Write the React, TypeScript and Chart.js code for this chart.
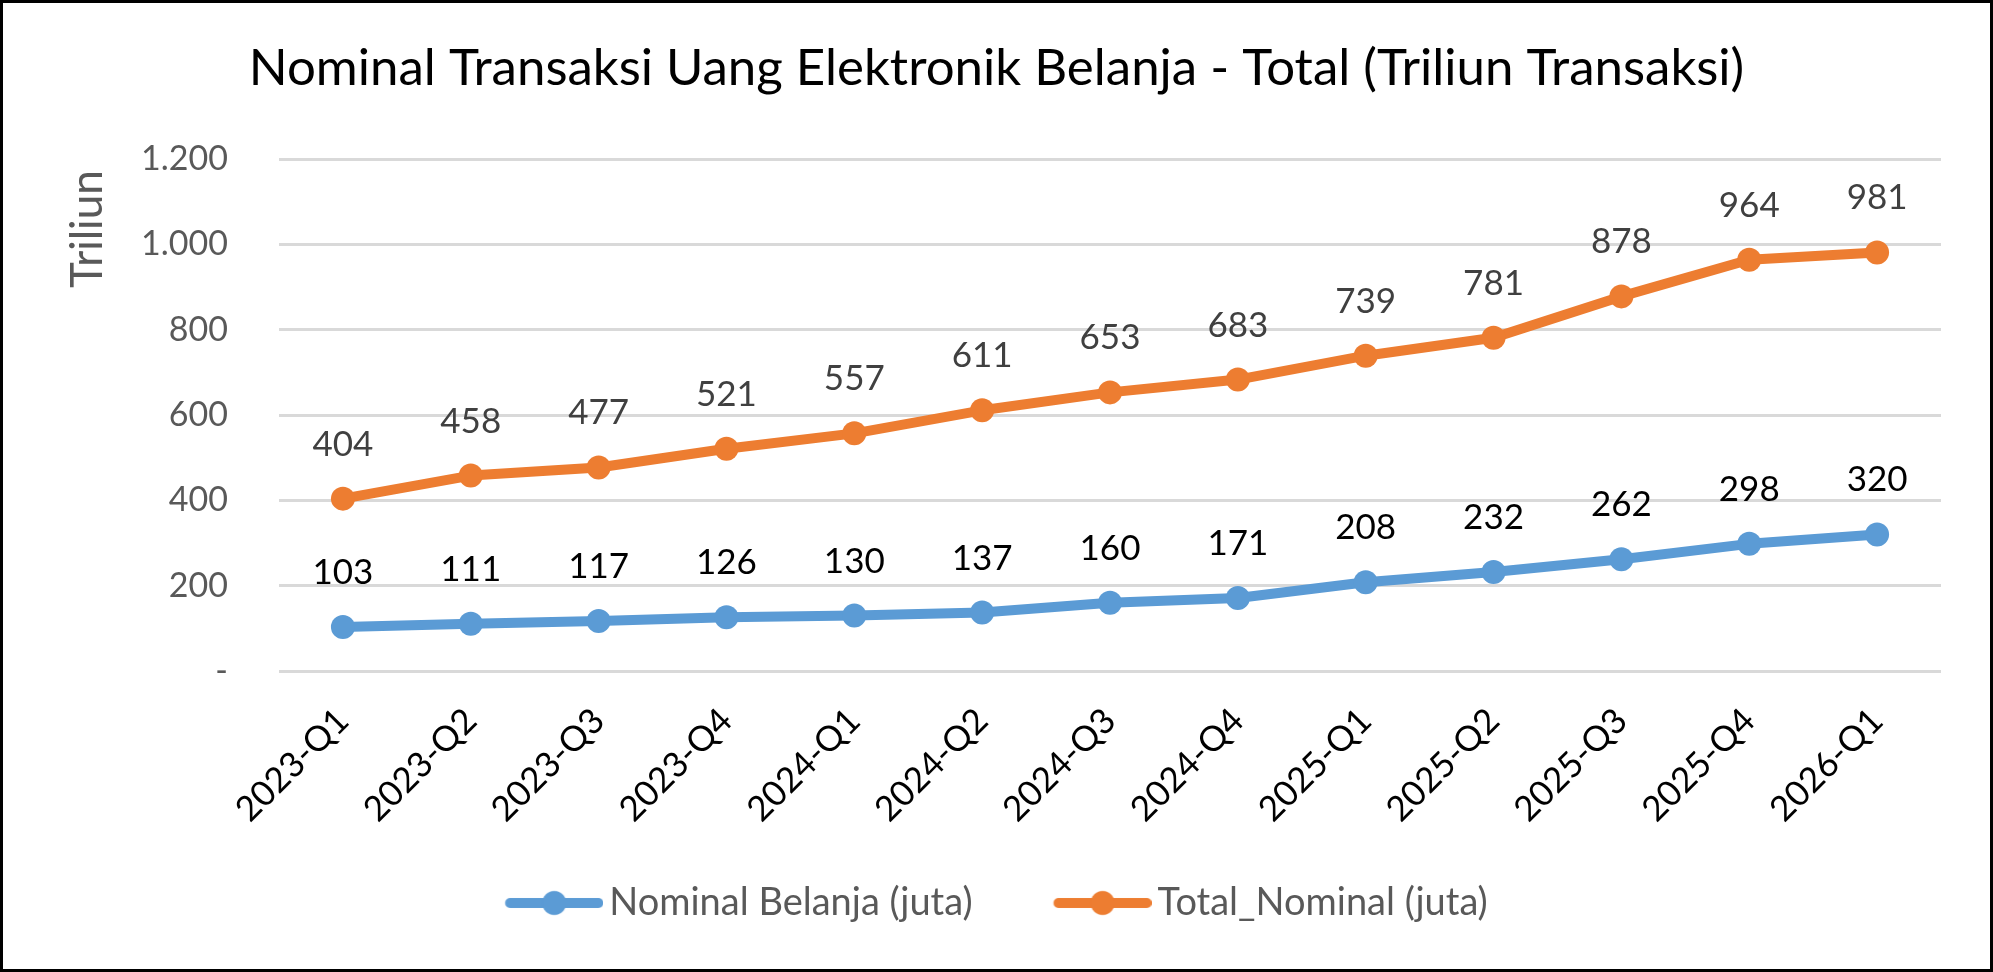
import React, { useEffect, useRef } from "react";
import { Chart, registerables } from "chart.js";

Chart.register(...registerables);

const categories = [
  "2023-Q1", "2023-Q2", "2023-Q3", "2023-Q4",
  "2024-Q1", "2024-Q2", "2024-Q3", "2024-Q4",
  "2025-Q1", "2025-Q2", "2025-Q3", "2025-Q4",
  "2026-Q1",
];
const nominalBelanja = [103, 111, 117, 126, 130, 137, 160, 171, 208, 232, 262, 298, 320];
const totalNominal = [404, 458, 477, 521, 557, 611, 653, 683, 739, 781, 878, 964, 981];
const seriesNames = ["Nominal Belanja (juta)", "Total_Nominal (juta)"];
const yTicks = [0, 200, 400, 600, 800, 1000, 1200];
const titleText = "Nominal Transaksi Uang Elektronik Belanja - Total (Triliun Transaksi)";
const yAxisTitle = "Triliun";

const BLUE = "#5B9BD5";
const ORANGE = "#ED7D31";
const LABEL_COLORS = ["#000000", "#404040"];
const FONT = "Lato";

function formatTick(v: number): string {
  if (v === 0) return "-";
  const s = String(Math.round(v));
  return s.replace(/\B(?=(\d{3})+(?!\d))/g, ".");
}

// Legend icon: line with a circle marker, at the right part of a slightly wider image
function makeLegendIcon(color: string): HTMLCanvasElement {
  const iconW = 98;
  const w = 111;
  const h = 26;
  const scale = 3;
  const hi = document.createElement("canvas");
  hi.width = w * scale;
  hi.height = h * scale;
  const c = hi.getContext("2d")!;
  c.scale(scale, scale);
  const x0 = w - iconW;
  c.strokeStyle = color;
  c.lineWidth = 10;
  c.lineCap = "round";
  c.beginPath();
  c.moveTo(x0 + 5, h / 2);
  c.lineTo(w - 5, h / 2);
  c.stroke();
  c.fillStyle = color;
  c.beginPath();
  c.arc(x0 + iconW / 2, h / 2, 12, 0, Math.PI * 2);
  c.fill();
  const img = document.createElement("canvas");
  img.width = w;
  img.height = h;
  const ictx = img.getContext("2d")!;
  ictx.imageSmoothingQuality = "high";
  ictx.drawImage(hi, 0, 0, w, h);
  return img;
}

const dataLabelPlugin = {
  id: "dataLabelsAbove",
  afterDatasetsDraw(chart: any) {
    const ctx = chart.ctx;
    ctx.save();
    ctx.font = `35px ${FONT}`;
    ctx.textAlign = "center";
    ctx.textBaseline = "alphabetic";
    chart.data.datasets.forEach((ds: any, di: number) => {
      const meta = chart.getDatasetMeta(di);
      ctx.fillStyle = LABEL_COLORS[di];
      meta.data.forEach((pt: any, i: number) => {
        const v = ds.data[i];
        ctx.fillText(String(v), pt.x, pt.y - 43);
      });
    });
    ctx.restore();
  },
};

// let the rotated category labels run below the (short) x-axis box without being clipped
const unclipXLabels = {
  id: "unclipXLabels",
  afterLayout(chart: any) {
    const x = chart.scales.x;
    if (x) x.bottom = x.top + 175;
  },
};

export default function App() {
  const ref = useRef<HTMLCanvasElement | null>(null);

  useEffect(() => {
    document.body.style.margin = "0";
    const canvas = ref.current;
    if (!canvas) return;
    const icons = [makeLegendIcon(BLUE), makeLegendIcon(ORANGE)];

    const lineDataset = (label: string, data: number[], color: string) => ({
      label,
      data,
      borderColor: color,
      backgroundColor: color,
      pointBackgroundColor: color,
      pointBorderColor: color,
      borderWidth: 10,
      pointRadius: 12,
      pointBorderWidth: 0,
      pointHoverRadius: 12,
      borderJoinStyle: "round",
      borderCapStyle: "round",
      tension: 0,
      fill: false,
    });

    const chart = new Chart(canvas, {
      type: "line",
      data: {
        labels: categories,
        datasets: [
          lineDataset(seriesNames[0], nominalBelanja, BLUE),
          lineDataset(seriesNames[1], totalNominal, ORANGE),
        ],
      },
      options: {
        responsive: false,
        animation: false,
        layout: { padding: { left: 49, right: 49, top: 0, bottom: 37 } },
        plugins: {
          title: {
            display: true,
            text: titleText,
            color: "#000000",
            font: { family: FONT, size: 51, weight: "normal" },
            padding: { top: 35, bottom: 59.8 },
          },
          legend: {
            display: true,
            position: "bottom",
            labels: {
              usePointStyle: true,
              pointStyleWidth: 85,
              padding: 81,
              color: "#595959",
              font: { family: FONT, size: 38 },
              generateLabels: (ch: any) => {
                const items = Chart.defaults.plugins.legend.labels.generateLabels(ch);
                return items.map((it: any, i: number) => ({ ...it, pointStyle: icons[i] }));
              },
            },
          },
          tooltip: { enabled: false },
        },
        scales: {
          x: {
            offset: true,
            grid: { display: false, drawTicks: false },
            border: { display: false },
            ticks: {
              autoSkip: false,
              minRotation: 45,
              maxRotation: 45,
              padding: 29,
              color: "#000000",
              font: { family: FONT, size: 35 },
            },
            afterFit: (scale: any) => {
              scale.height = 132;
            },
          },
          y: {
            min: 0,
            max: 1200,
            afterBuildTicks: (scale: any) => {
              scale.ticks = yTicks.map((v) => ({ value: v }));
            },
            grid: { color: "#D9D9D9", lineWidth: 3, drawTicks: false },
            border: { display: false },
            ticks: {
              padding: 51,
              color: "#595959",
              font: { family: FONT, size: 34 },
              callback: (v: any) => formatTick(Number(v)),
            },
            title: {
              display: true,
              text: yAxisTitle + " ",
              align: "end",
              color: "#595959",
              font: { family: FONT, size: 44 },
              padding: { top: 9.6, bottom: 0 },
            },
            afterFit: (scale: any) => {
              scale.width = 227;
            },
          },
        },
      },
      plugins: [dataLabelPlugin, unclipXLabels],
    } as any);

    return () => {
      chart.destroy();
    };
  }, []);

  return (
    <div
      style={{
        width: 1993,
        height: 972,
        boxSizing: "border-box",
        border: "3px solid #000",
        background: "#fff",
        overflow: "hidden",
      }}
    >
      <canvas ref={ref} width={1987} height={966} style={{ width: 1987, height: 966, display: "block" }} />
    </div>
  );
}
